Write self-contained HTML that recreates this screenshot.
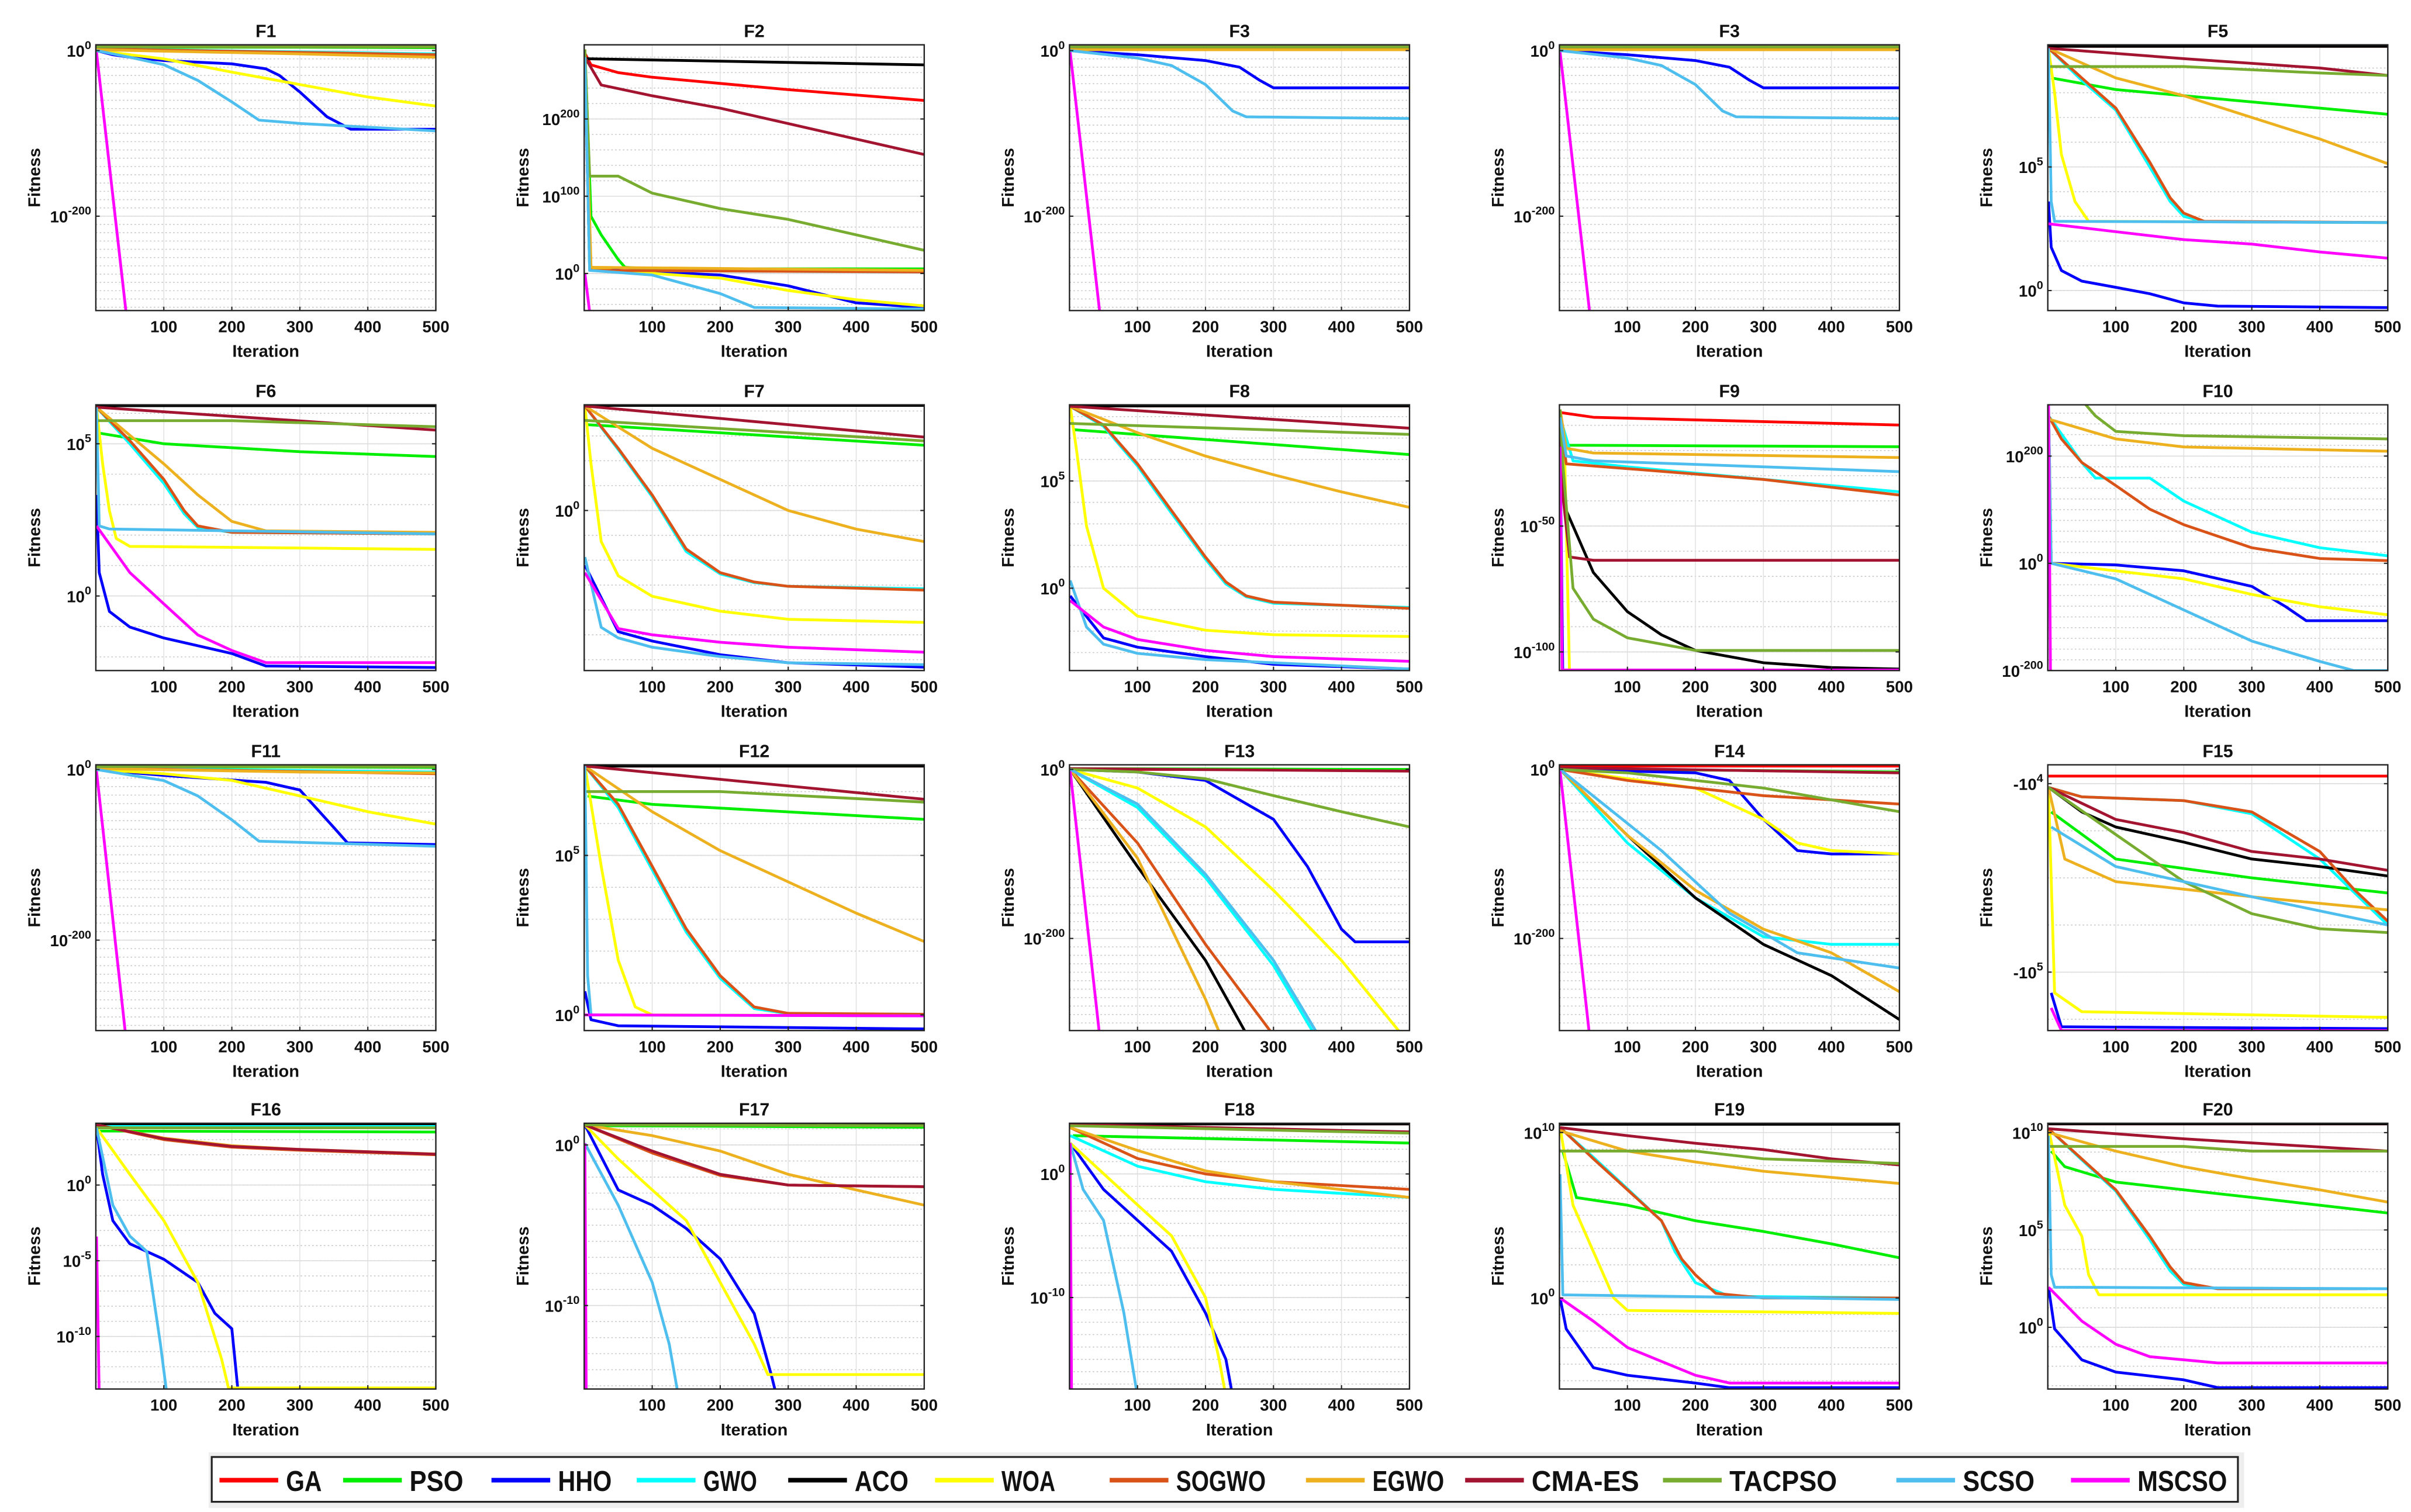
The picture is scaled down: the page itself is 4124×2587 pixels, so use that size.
<!DOCTYPE html>
<html><head><meta charset="utf-8"><title>Convergence curves F1-F20</title>
<style>
html,body{margin:0;padding:0;background:#fff;}
svg{display:block;}
text{font-family:"Liberation Sans",Arial,sans-serif;font-weight:bold;fill:#111;}
</style></head>
<body>
<svg id="fig" xmlns="http://www.w3.org/2000/svg" width="4124" height="2587" viewBox="0 0 1560 978.6"></svg>
<script>
// ---- series names & colours ----
const seriesNames = ["GA","PSO","HHO","GWO","ACO","WOA","SOGWO","EGWO","CMA-ES","TACPSO","SCSO","MSCSO"];
const seriesColors = ["#ff0000","#00ee00","#0000ff","#00ffff","#000000","#ffff00","#d95319","#edb120","#a2142f","#77ac30","#4dbeee","#ff00ff"];
const xTicks = [100,200,300,400,500];

// ---- panel titles and y-axis (log10) ranges / ticks ----
const panelTitles = ["F1","F2","F3","F3","F5","F6","F7","F8","F9","F10","F11","F12","F13","F14","F15","F16","F17","F18","F19","F20"];
const yMins  = [-314,-48,-314,-314,-0.81,-2.45,-12.875,-3.84,-107.4,-200,-306,-0.49,-309,-309,3.9,-13.47,-15.2,-17.4,-5.5,-3.17];
const yMaxs  = [7,296,7,7,9.94,6.28,8.5,8.55,-1.85,295.6,5.5,7.84,5.5,5.5,5.31,4.08,1.35,4.1,10.56,10.48];
const yTicks = [[0,-200],[0,100,200],[0,-200],[0,-200],[0,5],[0,5],[0],[0,5],[-50,-100],[-200,0,200],[0,-200],[0,5],[0,-200],[0,-200],[4,5],[0,-5,-10],[0,-10],[0,-10],[0,10],[0,5,10]];
const yMinor = [10,20,10,10,1,1,2,1,10,20,10,1,10,10,0.25,1,1,1,1,1];
const yReversed = [false,false,false,false,false,false,false,false,false,false,false,false,false,false,true,false,false,false,false,false];
const yNegLabel = [false,false,false,false,false,false,false,false,false,false,false,false,false,false,true,false,false,false,false,false];

// ---- series data: [iteration, log10(fitness)] ----
const F1 = [[[1,6],[500,6]],[[1,4],[300,4],[500,3.5]],[[1,0],[25,-5],[50,-8],[100,-12],[200,-16],[250,-22],[270,-30],[300,-50],[340,-80],[375,-95],[500,-95]],[[1,2],[500,-4]],[[1,5],[500,5]],[[1,0],[100,-10],[200,-26],[300,-41],[400,-56],[500,-67]],[[1,2],[500,-5]],[[1,1],[300,-4],[500,-8]],[[1,6.5],[500,6.5]],[[1,4.5],[500,4.5]],[[1,0],[50,-8],[100,-17],[150,-36],[200,-62],[240,-84],[300,-88],[500,-97]],[[1,-2],[45,-320]]];
const F2 = [[[1,285],[10,270],[50,260],[100,254],[300,238],[500,224]],[[1,290],[10,74],[25,50],[50,18],[60,8],[100,6],[500,6]],[[1,270],[8,6],[100,2],[200,-2],[300,-16],[400,-38],[500,-44]],[[1,290],[8,4],[500,2]],[[1,278],[500,270]],[[1,280],[8,6],[200,-6],[300,-22],[400,-34],[500,-42]],[[1,290],[10,4],[500,2]],[[1,290],[10,8],[500,4]],[[1,280],[25,244],[100,230],[200,214],[300,194],[400,174],[500,154]],[[1,290],[8,126],[50,126],[100,104],[200,84],[300,70],[400,50],[500,30]],[[1,280],[8,4],[100,-2],[200,-26],[250,-44],[500,-46]],[[1,0],[8,-50]]];
const F3 = [[[1,6],[500,6]],[[1,4],[500,4]],[[1,0],[100,-5],[200,-12],[250,-20],[280,-36],[300,-45],[500,-45]],[[1,2],[500,2]],[[1,5],[500,5]],[[1,1],[500,1]],[[1,2],[500,1.5]],[[1,1],[500,1]],[[1,6.5],[500,6.5]],[[1,4.5],[500,4.5]],[[1,0],[100,-9],[150,-18],[200,-41],[240,-73],[260,-80],[500,-82]],[[1,-2],[45,-320]]];
const F4 = [[[1,6],[500,6]],[[1,4],[500,4]],[[1,0],[100,-5],[200,-12],[250,-20],[280,-36],[300,-45],[500,-45]],[[1,2],[500,2]],[[1,5],[500,5]],[[1,1],[500,1]],[[1,2],[500,1.5]],[[1,1],[500,1]],[[1,6.5],[500,6.5]],[[1,4.5],[500,4.5]],[[1,0],[100,-9],[150,-18],[200,-41],[240,-73],[260,-80],[500,-82]],[[1,-2],[45,-320]]];
const F5 = [[[1,9.88],[500,9.88]],[[5,8.6],[100,8.13],[200,7.88],[300,7.63],[400,7.38],[500,7.13]],[[1,3.6],[5,1.75],[20,0.81],[50,0.38],[100,0.13],[150,-0.13],[200,-0.5],[250,-0.63],[500,-0.69]],[[1,9.8],[50,8.5],[100,7.3],[150,5.0],[180,3.6],[200,3.0],[230,2.78],[500,2.75]],[[1,9.88],[500,9.88]],[[1,9.8],[10,8.0],[20,5.5],[40,3.6],[60,2.8],[500,2.75]],[[1,9.8],[50,8.6],[100,7.38],[150,5.19],[180,3.75],[200,3.13],[230,2.8],[500,2.75]],[[1,9.8],[100,8.6],[200,7.88],[300,7.0],[400,6.13],[500,5.13]],[[1,9.8],[200,9.38],[400,9.0],[500,8.7]],[[1,9.06],[200,9.06],[400,8.8],[500,8.7]],[[1,9.8],[5,3.6],[10,2.8],[500,2.75]],[[1,2.7],[100,2.38],[200,2.06],[300,1.88],[400,1.56],[500,1.31]]];
const F6 = [[[1,6.25],[500,6.25]],[[5,5.35],[100,5.0],[300,4.74],[500,4.58]],[[1,3.32],[5,0.77],[20,-0.51],[50,-1.02],[100,-1.38],[200,-1.89],[250,-2.3],[500,-2.35]],[[1,6.2],[50,5.0],[100,3.7],[130,2.7],[150,2.25],[200,2.09],[500,2.04]],[[1,6.25],[500,6.25]],[[1,6.2],[10,4.34],[20,2.8],[30,1.89],[50,1.63],[500,1.53]],[[1,6.2],[50,5.1],[100,3.83],[130,2.8],[150,2.3],[200,2.09],[500,2.04]],[[1,6.2],[100,4.34],[150,3.32],[200,2.45],[250,2.14],[500,2.09]],[[1,6.2],[500,5.45]],[[1,5.76],[200,5.76],[500,5.56]],[[1,6.2],[5,2.3],[20,2.2],[500,2.04]],[[1,2.3],[50,0.77],[100,-0.26],[150,-1.28],[200,-1.79],[250,-2.19],[500,-2.19]]];
const F7 = [[[1,8.45],[500,8.45]],[[5,6.9],[500,5.25]],[[1,-4.4],[50,-9.75],[100,-10.5],[200,-11.6],[300,-12.25],[500,-12.6]],[[1,8.4],[50,4.9],[100,1.1],[150,-3.3],[200,-5.1],[250,-5.8],[300,-6.1],[500,-6.3]],[[1,8.45],[500,8.45]],[[1,8.4],[10,3.75],[25,-2.5],[50,-5.25],[100,-6.9],[200,-8.1],[300,-8.75],[500,-9]],[[1,8.4],[50,5.0],[100,1.25],[150,-3.1],[200,-5],[250,-5.75],[300,-6.1],[500,-6.4]],[[1,8.4],[100,5.0],[200,2.5],[300,0],[400,-1.5],[500,-2.5]],[[1,8.4],[500,5.9]],[[1,7.25],[500,5.6]],[[1,-3.75],[25,-9.4],[50,-10.25],[100,-11],[200,-11.75],[300,-12.25],[500,-12.4]],[[1,-5],[50,-9.5],[100,-10],[200,-10.6],[300,-11],[500,-11.4]]];
const F8 = [[[1,8.5],[500,8.5]],[[5,7.39],[500,6.23]],[[1,-0.36],[50,-2.32],[100,-2.75],[200,-3.19],[300,-3.55],[500,-3.77]],[[1,8.48],[50,7.55],[100,5.7],[150,3.5],[200,1.35],[230,0.2],[260,-0.4],[300,-0.7],[500,-0.9]],[[1,8.5],[500,8.5]],[[1,8.48],[10,6.52],[25,2.9],[50,0],[100,-1.3],[200,-1.96],[300,-2.17],[500,-2.25]],[[1,8.48],[50,7.61],[100,5.8],[150,3.62],[200,1.45],[230,0.29],[260,-0.36],[300,-0.65],[500,-0.94]],[[1,8.48],[100,7.25],[200,6.16],[300,5.29],[400,4.49],[500,3.77]],[[1,8.48],[500,7.46]],[[1,7.68],[500,7.17]],[[1,0.36],[25,-1.81],[50,-2.61],[100,-3.04],[200,-3.33],[500,-3.77]],[[1,-0.58],[50,-1.81],[100,-2.39],[200,-2.9],[300,-3.19],[500,-3.41]]];
const F9 = [[[1,-4.9],[50,-6.8],[500,-9.9]],[[1,-5],[10,-17.9],[500,-18.5]],[[1,-18.5],[5,-110]],[[1,-6.8],[20,-24.1],[100,-26.5],[500,-36.4]],[[1,-9.9],[10,-43.8],[50,-68.5],[100,-84],[150,-93.2],[200,-99.4],[300,-104.3],[400,-106.2],[500,-106.8]],[[1,-9.9],[8,-25],[15,-110]],[[1,-6],[10,-25.3],[100,-27.2],[300,-31.5],[500,-37.7]],[[1,-3.7],[10,-19.1],[50,-21],[500,-22.8]],[[1,-6.8],[5,-37.7],[15,-62.3],[50,-63.6],[500,-63.6]],[[1,-3.7],[5,-25.3],[20,-74.7],[50,-87],[100,-94.4],[200,-99.4],[500,-99.4]],[[1,-6.8],[10,-22.2],[50,-24.1],[500,-28.4]],[[1,-18.5],[4,-107.2],[500,-107.2]]];
const F10 = [[[1,310],[500,310]],[[1,300],[500,300]],[[1,300],[5,0],[100,-3],[200,-14],[300,-43],[350,-81],[380,-107],[500,-107]],[[1,275],[50,188],[70,159],[150,159],[200,116],[250,87],[300,58],[400,29],[500,14]],[[1,310],[500,310]],[[1,300],[5,0],[200,-29],[300,-58],[400,-81],[500,-96]],[[1,275],[20,232],[50,188],[100,145],[150,101],[200,72],[300,29],[400,9],[500,5]],[[1,269],[100,232],[200,217],[500,209]],[[1,310],[500,310]],[[40,300],[55,297],[70,275],[100,246],[200,238],[500,232]],[[1,300],[5,0],[100,-29],[200,-87],[300,-145],[400,-183],[450,-200],[500,-200]],[[1,300],[4,-220]]];
const F11 = [[[1,5],[500,5]],[[1,3],[300,3],[500,2.5]],[[1,0],[100,-7],[250,-15],[300,-24],[350,-68],[370,-86],[500,-88]],[[1,1.5],[500,-3]],[[1,4.5],[500,4.5]],[[1,0],[100,-5],[200,-12.8],[300,-31],[400,-49.5],[500,-64]],[[1,1.5],[500,-5]],[[1,1],[300,-3],[500,-4]],[[1,5.3],[500,5.3]],[[1,3.5],[500,3.5]],[[1,0],[100,-13],[150,-31],[200,-59],[240,-84],[500,-90]],[[1,-2],[45,-320]]];
const F12 = [[[1,7.8],[500,7.8]],[[5,6.86],[100,6.6],[500,6.13]],[[1,0.74],[10,-0.15],[50,-0.34],[500,-0.44]],[[1,7.8],[50,6.5],[100,4.55],[150,2.6],[200,1.15],[250,0.2],[300,0.04],[500,0.02]],[[1,7.8],[500,7.8]],[[1,7.8],[25,4.66],[50,1.72],[75,0.25],[100,0],[500,-0.03]],[[1,7.8],[50,6.6],[100,4.66],[150,2.7],[200,1.23],[250,0.25],[300,0.05],[500,0.02]],[[1,7.8],[100,6.37],[200,5.15],[300,4.17],[400,3.19],[500,2.3]],[[1,7.8],[500,6.76]],[[1,7.0],[200,7.0],[500,6.67]],[[1,7.8],[5,1.23],[10,0],[500,-0.03]],[[1,0],[500,-0.03]]];
const F13 = [[[1,0],[500,0]],[[1,1],[500,0]],[[1,0],[100,-3],[200,-13],[300,-59],[350,-115],[400,-189],[420,-204],[500,-204]],[[1,0],[100,-45],[200,-128],[300,-232],[365,-320]],[[1,0],[100,-115],[200,-226],[265,-320]],[[1,0],[100,-22],[200,-68],[300,-143],[400,-226],[495,-320]],[[1,0],[100,-87],[200,-207],[305,-320]],[[1,0],[100,-105],[200,-272],[225,-320]],[[1,1],[500,-2]],[[1,0],[100,-3],[200,-11],[300,-31],[400,-50],[500,-68]],[[1,0],[100,-41],[200,-124],[300,-226],[370,-320]],[[1,-2],[45,-320]]];
const F14 = [[[1,4],[500,4]],[[1,1],[500,-3]],[[1,0],[200,-4],[250,-13],[300,-59],[350,-96],[400,-100],[500,-100]],[[1,0],[100,-87],[200,-152],[300,-198],[400,-207],[500,-207]],[[1,0],[100,-78],[200,-152],[300,-207],[400,-244],[500,-296]],[[1,0],[200,-22],[300,-59],[350,-87],[400,-96],[500,-100]],[[1,0],[100,-13],[300,-31],[500,-41]],[[1,0],[100,-78],[200,-143],[300,-189],[400,-217],[500,-263]],[[1,2],[500,-4]],[[1,0],[100,-4],[300,-22],[500,-50]],[[1,0],[150,-96],[250,-170],[350,-217],[500,-235]],[[1,-2],[45,-320]]];
const F15 = [[[1,3.96],[500,3.96]],[[5,4.15],[100,4.40],[200,4.45],[300,4.50],[400,4.54],[500,4.58]],[[5,5.11],[20,5.29],[500,5.30]],[[1,4.02],[50,4.07],[200,4.09],[300,4.16],[400,4.40],[500,4.75]],[[1,4.02],[50,4.15],[100,4.23],[200,4.31],[300,4.40],[400,4.44],[500,4.49]],[[1,4.02],[10,5.11],[50,5.21],[500,5.24]],[[1,4.02],[50,4.07],[200,4.09],[300,4.15],[400,4.36],[450,4.56],[500,4.73]],[[1,4.02],[25,4.40],[100,4.52],[300,4.60],[500,4.67]],[[1,4.02],[100,4.19],[200,4.26],[300,4.36],[400,4.40],[500,4.46]],[[1,4.02],[100,4.27],[200,4.52],[300,4.69],[400,4.77],[500,4.79]],[[5,4.23],[100,4.44],[200,4.52],[300,4.60],[500,4.75]],[[5,5.19],[20,5.31],[500,5.31]]];
const F16 = [[[1,4.05],[500,4.05]],[[1,3.57],[500,3.5]],[[1,3.78],[10,0.71],[25,-2.35],[50,-3.88],[75,-4.39],[100,-4.9],[150,-6.43],[175,-8.47],[200,-9.49],[210,-14]],[[1,3.9],[500,3.9]],[[1,4.05],[500,4.05]],[[1,3.78],[50,0.71],[100,-2.35],[150,-6.43],[185,-11.5],[195,-13.4],[500,-13.4]],[[1,3.98],[100,3.0],[200,2.5],[300,2.3],[500,2.0]],[[1,3.98],[100,3.1],[200,2.6],[300,2.35],[500,2.05]],[[1,3.98],[100,3.06],[200,2.55],[300,2.35],[500,2.04]],[[1,3.78],[500,3.78]],[[1,3.78],[25,-1.33],[50,-3.37],[75,-4.39],[85,-7.45],[95,-10.5],[105,-14]],[[1,-3.4],[5,-14]]];
const F17 = [[[1,1.25],[500,1.25]],[[1,1.2],[500,1.1]],[[1,1.25],[50,-2.8],[100,-3.75],[150,-5.2],[200,-7.1],[250,-10.5],[275,-14.3],[285,-16]],[[1,1.25],[500,1.25]],[[1,1.25],[500,1.25]],[[1,1.25],[50,-0.87],[100,-2.8],[150,-4.7],[200,-8.56],[250,-12.4],[270,-14.3],[500,-14.3]],[[1,1.25],[100,-0.5],[200,-1.9],[300,-2.5],[500,-2.6]],[[1,1.25],[100,0.58],[200,-0.38],[300,-1.83],[400,-2.8],[500,-3.75]],[[1,1.25],[100,-0.38],[200,-1.83],[300,-2.5],[500,-2.6]],[[1,1.25],[500,1.2]],[[1,0.1],[50,-3.75],[100,-8.56],[125,-12.4],[140,-16]],[[1,0.1],[3,-16]]];
const F18 = [[[1,4.05],[500,4.05]],[[5,3.1],[500,2.5]],[[1,2.5],[50,-1.25],[100,-3.75],[150,-6.25],[200,-11.25],[230,-15],[240,-18]],[[1,3.1],[100,0.63],[200,-0.63],[300,-1.25],[500,-1.9]],[[1,4.05],[500,4.05]],[[1,2.5],[100,-2.5],[150,-5],[200,-10],[220,-15],[230,-18]],[[1,3.75],[100,1.25],[200,0],[300,-0.63],[500,-1.25]],[[1,3.75],[100,1.9],[200,0.25],[300,-0.63],[500,-1.9]],[[1,4],[500,3.4]],[[1,3.9],[500,3.3]],[[1,2.5],[20,-1.25],[50,-3.75],[80,-11.25],[100,-18]],[[1,2.5],[3,-18]]];
const F19 = [[[1,10.5],[500,10.5]],[[5,8.88],[25,6.07],[100,5.61],[200,4.67],[300,4.02],[400,3.27],[500,2.43]],[[1,0],[10,-1.87],[50,-4.21],[100,-4.67],[200,-5.14],[250,-5.42],[500,-5.42]],[[1,10.3],[50,8.5],[100,6.6],[150,4.67],[170,2.8],[200,0.93],[250,0.1],[500,0]],[[1,10.5],[500,10.5]],[[1,10.3],[20,5.61],[50,2.8],[80,0],[100,-0.75],[500,-0.93]],[[1,10.3],[50,8.41],[100,6.54],[150,4.67],[180,2.34],[200,1.4],[230,0.28],[300,0],[500,0]],[[1,10.1],[100,8.88],[200,8.22],[300,7.66],[400,7.29],[500,6.92]],[[1,10.3],[100,9.81],[200,9.35],[300,8.97],[400,8.41],[500,8.04]],[[1,8.88],[200,8.88],[300,8.41],[500,8.13]],[[1,7.48],[5,0.19],[500,-0.09]],[[1,0],[50,-1.4],[100,-2.99],[200,-4.67],[250,-5.14],[500,-5.14]]];
const F20 = [[[1,10.45],[500,10.45]],[[5,9.05],[25,8.25],[100,7.46],[200,7.06],[300,6.67],[400,6.27],[500,5.87]],[[1,2.06],[10,-0.08],[50,-1.67],[100,-2.3],[200,-2.7],[250,-3.1],[500,-3.1]],[[1,10.2],[50,8.6],[100,7.0],[150,4.5],[180,2.9],[200,2.2],[250,1.98],[470,1.98]],[[1,10.45],[500,10.45]],[[1,10.2],[25,6.27],[50,4.68],[60,2.7],[75,1.67],[500,1.67]],[[1,10.2],[50,8.65],[100,7.06],[150,4.68],[180,3.1],[200,2.3],[250,1.98],[470,1.98]],[[1,10.0],[100,9.05],[200,8.25],[300,7.62],[400,7.06],[500,6.43]],[[1,10.2],[200,9.68],[500,9.05]],[[1,9.29],[200,9.29],[300,9.05],[500,9.05]],[[1,9.84],[5,2.7],[10,2.06],[500,1.98]],[[1,2.06],[50,0.32],[100,-0.87],[150,-1.51],[200,-1.67],[250,-1.83],[500,-1.83]]];
const allSeries = [F1,F2,F3,F4,F5,F6,F7,F8,F9,F10,F11,F12,F13,F14,F15,F16,F17,F18,F19,F20];

// ---- layout ----
const NS = "http://www.w3.org/2000/svg";
const svg = document.getElementById("fig");
const colLeft = [62,378,692,1009,1325];
const rowTop = [29,262,495,727];
const PW = 220, PH = 172;
function mk(tag, attrs, parent){
  const e = document.createElementNS(NS, tag);
  for (const k in attrs) e.setAttribute(k, attrs[k]);
  (parent||svg).appendChild(e);
  return e;
}

allSeries.forEach((series, p) => {
  const L = colLeft[p%5], T = rowTop[Math.floor(p/5)];
  const ymin = yMins[p], ymax = yMaxs[p], rev = yReversed[p];
  const xs = it => L + it/500*PW;
  const ys = v => rev ? T + (v - ymin)/(ymax - ymin)*PH : T + (ymax - v)/(ymax - ymin)*PH;
  const g = mk("g", {});
  
  
  mk("rect", {x:L, y:T, width:PW, height:PH, fill:"#fff"}, g);
  const step = yMinor[p];
  for (let v = Math.ceil(ymin/step)*step; v <= ymax; v += step) {
    mk("line", {x1:L, x2:L+PW, y1:ys(v), y2:ys(v), stroke:"#c8c8c8", "stroke-width":0.6, "stroke-dasharray":"1,1.5"}, g);
  }
  xTicks.forEach(t => { if (t < 500) mk("line", {x1:xs(t), x2:xs(t), y1:T, y2:T+PH, stroke:"#e2e2e2", "stroke-width":0.6}, g); });
  yTicks[p].forEach(t => mk("line", {x1:L, x2:L+PW, y1:ys(t), y2:ys(t), stroke:"#dcdcdc", "stroke-width":0.6}, g));
  const cid = "clip" + p;
  const cp = mk("clipPath", {id:cid}, g);
  mk("rect", {x:L, y:T, width:PW, height:PH}, cp);
  const sg = mk("g", {"clip-path":"url(#"+cid+")"}, g);
  series.forEach((pts, s) => {
    const d = pts.map((q,i) => (i?"L":"M") + xs(q[0]).toFixed(2) + "," + ys(q[1]).toFixed(2)).join("");
    const path = mk("path", {d:d, fill:"none", stroke:seriesColors[s], "stroke-width":1.8, "stroke-linejoin":"round"}, sg);
    
    
  });
  const fr = mk("rect", {x:L, y:T, width:PW, height:PH, fill:"none", stroke:"#222", "stroke-width":0.9}, g);
  
  
  xTicks.forEach(t => {
    mk("line", {x1:xs(t), x2:xs(t), y1:T+PH, y2:T+PH-2.5, stroke:"#222", "stroke-width":0.8}, g);
    const tx = mk("text", {x:xs(t), y:T+PH+14, "font-size":10.5, "text-anchor":"middle"}, g);
    tx.textContent = t;
    
    
  });
  yTicks[p].forEach(t => {
    const y = ys(t);
    mk("line", {x1:L, x2:L+2.5, y1:y, y2:y, stroke:"#222", "stroke-width":0.8}, g);
    mk("line", {x1:L+PW, x2:L+PW-2.5, y1:y, y2:y, stroke:"#222", "stroke-width":0.8}, g);
    const tx = mk("text", {x:L-3, y:y+4, "font-size":10.5, "text-anchor":"end"}, g);
    
    
    const base = mk("tspan", {}, tx);
    base.textContent = (yNegLabel[p] ? "-" : "") + "10";
    const sup = mk("tspan", {dy:-5, "font-size":7.5}, tx);
    sup.textContent = String(t);
  });
  const ti = mk("text", {x:L+PW/2, y:T-5, "font-size":11.5, "text-anchor":"middle"}, g);
  ti.textContent = panelTitles[p];
  
  
  const xl = mk("text", {x:L+PW/2, y:T+PH+30, "font-size":11, "text-anchor":"middle"}, g);
  xl.textContent = "Iteration";
  
  
  const yl = mk("text", {x:0, y:0, "font-size":11, "text-anchor":"middle", transform:"translate("+(L-36)+","+(T+PH/2)+") rotate(-90)"}, g);
  yl.textContent = "Fitness";
  
  
});

// ---- legend ----
const legendX = [142,222,318,412,510,605,718,845,948,1076,1227,1340];
const lg = mk("g", {});


mk("rect", {x:135, y:940, width:1317, height:36, fill:"#eeeeee"}, lg);
mk("rect", {x:137, y:943, width:1311, height:29, fill:"#fff", stroke:"#222", "stroke-width":1.2}, lg);
seriesNames.forEach((n, i) => {
  const eg = mk("g", {}, lg);
  
  
  mk("line", {x1:legendX[i], x2:legendX[i]+38, y1:958, y2:958, stroke:seriesColors[i], "stroke-width":3}, eg);
  const t = mk("text", {x:legendX[i]+43, y:965, "font-size":18.5, textLength: n.length*11.6, lengthAdjust:"spacingAndGlyphs"}, eg);
  t.textContent = n;
});
</script>
</body></html>
